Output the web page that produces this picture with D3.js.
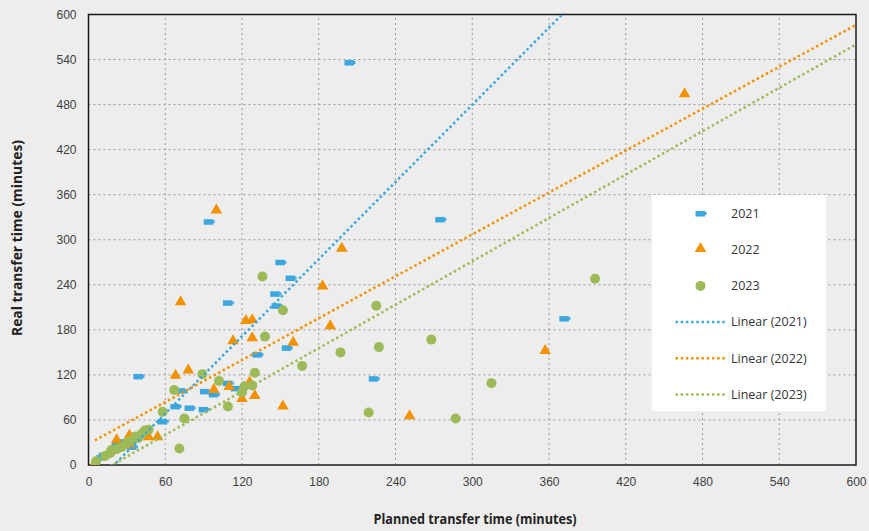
<!DOCTYPE html>
<html>
<head>
<meta charset="utf-8">
<script src="https://cdn.jsdelivr.net/npm/d3@7"></script>
<style>
  html, body { margin: 0; padding: 0; background: #ededed; }
  svg { display: block; font-family: "Open Sans", sans-serif; }
  .tick-label { font-size: 12px; fill: #404040; }
  .axis-title { font-family: "Open Sans", sans-serif; font-size: 13.5px; font-weight: bold; fill: #222; }
  .legend-label { font-size: 12.5px; fill: #333; }
</style>
</head>
<body>
<div id="chart"></div>
<script>
// CONFIG
const width = 869;
const height = 531;
const margin = { top: 14.5, right: 13, bottom: 66, left: 88.5 };

// DATA (planned minutes, real minutes)
const years = ["2021", "2022", "2023"];

const planned2021 = [204, 275, 372, 94, 150, 158, 109, 146, 147, 155, 132, 223, 39, 72, 91, 98, 109, 115, 68, 79, 90, 58, 44, 38, 33, 27, 25, 22, 34, 12, 10];
const real2021    = [536, 327, 195, 324, 270, 249, 216, 228, 212, 156, 147, 115, 118, 99, 98, 94, 109, 102, 78, 76, 74, 58, 44, 40, 37, 30, 31, 27, 24, 13, 10];

const planned2022 = [466, 100, 198, 357, 251, 72, 183, 189, 123, 128, 113, 128, 160, 98, 110, 126, 120, 130, 152, 68, 78, 22, 32, 32, 47, 54, 5];
const real2022    = [493, 338, 287, 151, 64, 216, 237, 184, 191, 192, 164, 168, 162, 99, 103, 109, 87, 91, 77, 118, 125, 32, 38, 25, 36, 36, 1];

const planned2023 = [396, 268, 287, 315, 219, 225, 197, 227, 167, 152, 138, 136, 130, 128, 122, 120, 109, 102, 89, 67, 58, 75, 71, 47, 44, 39, 34, 30, 26, 22, 17, 13, 6, 37, 42, 18];
const real2023    = [248, 167, 62, 109, 70, 212, 150, 157, 132, 206, 171, 251, 123, 106, 105, 97, 78, 112, 121, 100, 71, 62, 22, 47, 46, 36, 33, 30, 24, 21, 16, 12, 5, 38, 42, 20];

// linear trend lines, y = slope * x + intercept
const trendSlope     = [1.713, 0.930, 0.963];
const trendIntercept = [-34.2, 28.1, -17.7];
const trendFrom      = [10, 5, 6];
const trendTo        = [372, 600, 600];

const xTicks = [0, 60, 120, 180, 240, 300, 360, 420, 480, 540, 600];
const yTicks = [0, 60, 120, 180, 240, 300, 360, 420, 480, 540, 600];

const COLORS = ["#3ba7de", "#f39200", "#9cbb58"];

const series = [
  { name: years[0], x: planned2021, y: real2021 },
  { name: years[1], x: planned2022, y: real2022 },
  { name: years[2], x: planned2023, y: real2023 }
];

// SCALES
const x = d3.scaleLinear().domain([0, 600]).range([margin.left, width - margin.right]);
const y = d3.scaleLinear().domain([0, 600]).range([height - margin.bottom, margin.top]);

const svg = d3.select("#chart").append("svg")
  .attr("width", width)
  .attr("height", height);

svg.append("defs").append("clipPath").attr("id", "plot-clip")
  .append("rect")
  .attr("x", x(0)).attr("y", y(600))
  .attr("width", x(600) - x(0)).attr("height", y(0) - y(600));

// GRID
svg.append("g").selectAll("line")
  .data(yTicks.filter(d => d > 0 && d < 600))
  .join("line")
  .attr("x1", x(0)).attr("x2", x(600))
  .attr("y1", d => y(d)).attr("y2", d => y(d))
  .attr("stroke", "#9a9a9a").attr("stroke-width", 1)
  .attr("stroke-dasharray", "2,3");

svg.append("g").selectAll("line")
  .data(xTicks.filter(d => d > 0 && d < 600))
  .join("line")
  .attr("x1", d => x(d)).attr("x2", d => x(d))
  .attr("y1", y(0)).attr("y2", y(600))
  .attr("stroke", "#9a9a9a").attr("stroke-width", 1)
  .attr("stroke-dasharray", "2,3");

// AXES (labels only, no tick marks)
const xAxis = svg.append("g")
  .attr("transform", `translate(0,${y(0)})`)
  .call(d3.axisBottom(x).tickValues(xTicks).tickSize(0).tickPadding(12));
xAxis.select(".domain").remove();
xAxis.selectAll("text").attr("class", "tick-label").attr("font-family", null).attr("font-size", null);

const yAxis = svg.append("g")
  .attr("transform", `translate(${x(0)},0)`)
  .call(d3.axisLeft(y).tickValues(yTicks).tickSize(0).tickPadding(12));
yAxis.select(".domain").remove();
yAxis.selectAll("text").attr("class", "tick-label").attr("font-family", null).attr("font-size", null);

// PLOT FRAME
svg.append("rect")
  .attr("x", x(0)).attr("y", y(600))
  .attr("width", x(600) - x(0)).attr("height", y(0) - y(600))
  .attr("fill", "none").attr("stroke", "#1a1a1a").attr("stroke-width", 1.5);

// MARKERS
const triangle = d3.symbol().type(d3.symbolTriangle).size(58);

function drawMarker(g, i, color) {
  if (i === 0) {
    g.append("rect").attr("x", -5).attr("y", -2.5).attr("width", 9.5).attr("height", 5.5).attr("fill", color);
    g.append("rect").attr("x", 4.5).attr("y", -1.5).attr("width", 1.5).attr("height", 3).attr("fill", color);
  } else if (i === 1) {
    g.append("path").attr("d", triangle).attr("transform", "translate(0,-1)").attr("fill", color);
  } else {
    g.append("circle").attr("r", 5).attr("fill", color);
  }
}

const plot = svg.append("g").attr("clip-path", "url(#plot-clip)");

series.forEach((s, i) => {
  const pts = s.x.map((v, k) => [v, s.y[k]]);
  plot.append("g").selectAll("g")
    .data(pts)
    .join("g")
    .attr("transform", d => `translate(${x(d[0])},${y(d[1])})`)
    .each(function () { drawMarker(d3.select(this), i, COLORS[i]); });
});

// TREND LINES
const line = d3.line().x(d => x(d[0])).y(d => y(d[1]));
series.forEach((s, i) => {
  const ends = [trendFrom[i], trendTo[i]].map(v => [v, trendSlope[i] * v + trendIntercept[i]]);
  plot.append("path")
    .attr("d", line(ends))
    .attr("fill", "none")
    .attr("stroke", COLORS[i])
    .attr("stroke-width", 2.5)
    .attr("stroke-dasharray", "2.5,2.7");
});

// LEGEND
const legend = svg.append("g");
legend.append("rect")
  .attr("x", 652).attr("y", 195).attr("width", 174).attr("height", 216)
  .attr("fill", "#ffffff");

const legendRows = years.map((d, i) => ({ label: d, kind: "marker", i }))
  .concat(years.map((d, i) => ({ label: `Linear (${d})`, kind: "line", i })));

legendRows.forEach((r, k) => {
  const ry = 213.5 + k * 36.2;
  const g = legend.append("g").attr("transform", `translate(700.5,${ry})`);
  if (r.kind === "marker") {
    drawMarker(g, r.i, COLORS[r.i]);
  } else {
    g.append("line")
      .attr("x1", -25).attr("x2", 25)
      .attr("stroke", COLORS[r.i]).attr("stroke-width", 2.5)
      .attr("stroke-dasharray", "2.5,2.7");
  }
  legend.append("text")
    .attr("class", "legend-label")
    .attr("x", 731).attr("y", ry)
    .attr("dy", "0.35em")
    .text(r.label);
});

// AXIS TITLES (condensed to match the narrow original face)
svg.append("text")
  .attr("class", "axis-title")
  .attr("x", 475)
  .attr("y", 519)
  .attr("dy", "0.35em")
  .attr("text-anchor", "middle")
  .attr("textLength", 203)
  .attr("lengthAdjust", "spacingAndGlyphs")
  .text("Planned transfer time (minutes)");

svg.append("text")
  .attr("class", "axis-title")
  .attr("transform", `translate(17,238) rotate(-90)`)
  .attr("dy", "0.35em")
  .attr("text-anchor", "middle")
  .attr("textLength", 196)
  .attr("lengthAdjust", "spacingAndGlyphs")
  .text("Real transfer time (minutes)");
</script>
</body>
</html>
